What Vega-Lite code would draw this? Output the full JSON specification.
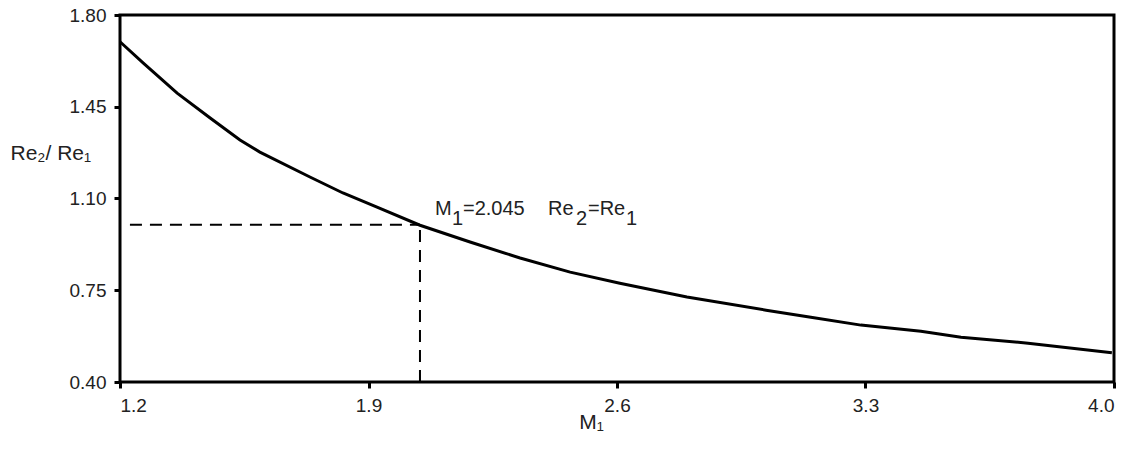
{
  "$schema": "https://vega.github.io/schema/vega-lite/v6.json",
  "autosize": "none",
  "width": 994,
  "height": 367,
  "padding": {"left": 120, "top": 15, "right": 32, "bottom": 68},
  "background": "white",
  "datasets": {
    "curve": [
      {"M1": 1.2, "ratio": 1.698},
      {"M1": 1.265, "ratio": 1.617},
      {"M1": 1.361, "ratio": 1.502},
      {"M1": 1.454, "ratio": 1.407},
      {"M1": 1.538, "ratio": 1.323},
      {"M1": 1.594, "ratio": 1.277},
      {"M1": 1.735, "ratio": 1.182},
      {"M1": 1.828, "ratio": 1.121},
      {"M1": 1.924, "ratio": 1.067},
      {"M1": 2.045, "ratio": 0.998},
      {"M1": 2.186, "ratio": 0.934},
      {"M1": 2.327, "ratio": 0.873},
      {"M1": 2.468, "ratio": 0.819},
      {"M1": 2.608, "ratio": 0.777},
      {"M1": 2.797, "ratio": 0.724},
      {"M1": 3.02, "ratio": 0.674},
      {"M1": 3.146, "ratio": 0.647},
      {"M1": 3.287, "ratio": 0.617},
      {"M1": 3.456, "ratio": 0.594},
      {"M1": 3.569, "ratio": 0.571},
      {"M1": 3.758, "ratio": 0.548},
      {"M1": 3.994, "ratio": 0.512}
    ],
    "hline": [{"xa": 1.228, "xb": 2.045, "y": 1.0}],
    "vline": [{"x": 2.045, "ya": 0.4, "yb": 1.0}],
    "note": [{"x": 2.045, "y": 1.0}]
  },
  "layer": [
    {
      "data": {"name": "curve"},
      "mark": {"type": "line", "color": "black", "strokeWidth": 3},
      "encoding": {
        "x": {
          "field": "M1", "type": "quantitative",
          "scale": {"domain": [1.2, 4.0], "nice": false, "zero": false},
          "axis": {
            "values": [1.2, 1.9, 2.6, 3.3, 4.0], "format": ".1f",
            "title": "M₁", "titleX": 471, "titleY": 46, "titleAlign": "center",
            "titleBaseline": "alphabetic"
          }
        },
        "y": {
          "field": "ratio", "type": "quantitative",
          "scale": {"domain": [0.4, 1.8], "nice": false, "zero": false},
          "axis": {
            "values": [0.4, 0.75, 1.1, 1.45, 1.8], "format": ".2f",
            "title": "Re₂/ Re₁", "titleAngle": 0, "titleX": -110, "titleY": 144,
            "titleAlign": "left", "titleBaseline": "alphabetic"
          }
        }
      }
    },
    {
      "data": {"name": "hline"},
      "mark": {"type": "rule", "color": "black", "strokeWidth": 2, "strokeDash": [12, 8]},
      "encoding": {
        "x": {"field": "xa", "type": "quantitative"},
        "x2": {"field": "xb"},
        "y": {"field": "y", "type": "quantitative"}
      }
    },
    {
      "data": {"name": "vline"},
      "mark": {"type": "rule", "color": "black", "strokeWidth": 2, "strokeDash": [12, 8]},
      "encoding": {
        "x": {"field": "x", "type": "quantitative"},
        "y": {"field": "ya", "type": "quantitative"},
        "y2": {"field": "yb"}
      }
    },
    {
      "data": {"name": "note"},
      "mark": {"type": "text", "align": "left", "baseline": "alphabetic", "dx": 15, "dy": -10,
               "font": "Liberation Sans", "fontSize": 20, "color": "#222", "text": "M"},
      "encoding": {"x": {"field": "x", "type": "quantitative"}, "y": {"field": "y", "type": "quantitative"}}
    },
    {
      "data": {"name": "note"},
      "mark": {"type": "text", "align": "left", "baseline": "alphabetic", "dx": 32, "dy": 0,
               "font": "Liberation Sans", "fontSize": 20, "color": "#222", "text": "1"},
      "encoding": {"x": {"field": "x", "type": "quantitative"}, "y": {"field": "y", "type": "quantitative"}}
    },
    {
      "data": {"name": "note"},
      "mark": {"type": "text", "align": "left", "baseline": "alphabetic", "dx": 43, "dy": -10,
               "font": "Liberation Sans", "fontSize": 20, "color": "#222", "text": "=2.045"},
      "encoding": {"x": {"field": "x", "type": "quantitative"}, "y": {"field": "y", "type": "quantitative"}}
    },
    {
      "data": {"name": "note"},
      "mark": {"type": "text", "align": "left", "baseline": "alphabetic", "dx": 128, "dy": -10,
               "font": "Liberation Sans", "fontSize": 20, "color": "#222", "text": "Re"},
      "encoding": {"x": {"field": "x", "type": "quantitative"}, "y": {"field": "y", "type": "quantitative"}}
    },
    {
      "data": {"name": "note"},
      "mark": {"type": "text", "align": "left", "baseline": "alphabetic", "dx": 156, "dy": 0,
               "font": "Liberation Sans", "fontSize": 20, "color": "#222", "text": "2"},
      "encoding": {"x": {"field": "x", "type": "quantitative"}, "y": {"field": "y", "type": "quantitative"}}
    },
    {
      "data": {"name": "note"},
      "mark": {"type": "text", "align": "left", "baseline": "alphabetic", "dx": 168, "dy": -10,
               "font": "Liberation Sans", "fontSize": 20, "color": "#222", "text": "=Re"},
      "encoding": {"x": {"field": "x", "type": "quantitative"}, "y": {"field": "y", "type": "quantitative"}}
    },
    {
      "data": {"name": "note"},
      "mark": {"type": "text", "align": "left", "baseline": "alphabetic", "dx": 206, "dy": 0,
               "font": "Liberation Sans", "fontSize": 20, "color": "#222", "text": "1"},
      "encoding": {"x": {"field": "x", "type": "quantitative"}, "y": {"field": "y", "type": "quantitative"}}
    }
  ],
  "config": {
    "view": {"stroke": "black", "strokeWidth": 3},
    "axis": {
      "domain": false, "grid": false,
      "tickColor": "black", "tickWidth": 3, "tickSize": 6,
      "labelFont": "Liberation Sans", "labelFontSize": 19, "labelColor": "#222",
      "labelPadding": 8,
      "titleFont": "Liberation Sans", "titleFontSize": 21, "titleFontWeight": "normal", "titleColor": "#222"
    }
  }
}
